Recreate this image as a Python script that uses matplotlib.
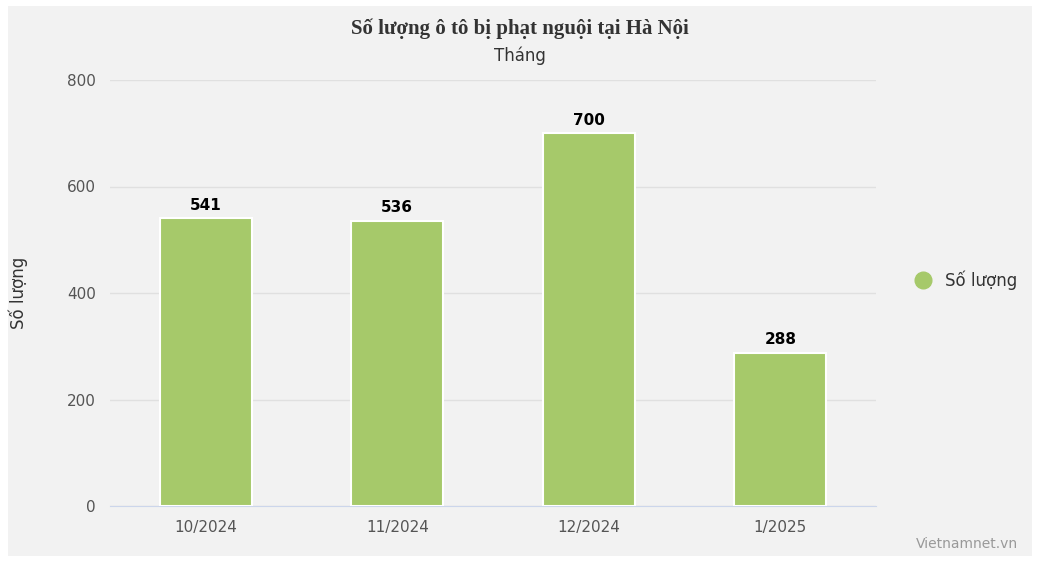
import matplotlib
matplotlib.use("Agg")
import matplotlib.pyplot as plt
from matplotlib.lines import Line2D

categories = ["10/2024", "11/2024", "12/2024", "1/2025"]
values = [541, 536, 700, 288]
yticks = [0, 200, 400, 600, 800]

W, H = 1043, 566
fig = plt.figure(figsize=(W/100, H/100), dpi=100)
fig.patch.set_facecolor("white")
bg = fig.add_axes([8/W, 1-556/H, (1032-8)/W, (556-6)/H], zorder=0)
bg.set_facecolor("#f2f2f2")
bg.set_xticks([]); bg.set_yticks([])
for s in bg.spines.values():
    s.set_visible(False)

ax = fig.add_axes([110/W, 1-506/H, (876-110)/W, (506-80)/H], zorder=1)
ax.set_facecolor("none")
x = range(len(categories))
ax.bar(x, values, width=0.48, color="#a6c96a", edgecolor="white", linewidth=1.5, zorder=3)
for xi, v in zip(x, values):
    ax.text(xi, v + 10, str(v), ha="center", va="bottom", fontsize=11, fontweight="bold", color="#000000")
ax.set_xlim(-0.5, len(categories) - 0.5)
ax.set_ylim(0, 800)
ax.set_yticks(yticks)
ax.set_xticks(list(x))
ax.set_xticklabels(categories)
ax.tick_params(axis="both", length=0, labelsize=11, colors="#555555", pad=10)
ax.grid(axis="y", color="#e0e0e0", linewidth=1, zorder=0)
for s in ["top", "right", "left"]:
    ax.spines[s].set_visible(False)
ax.spines["bottom"].set_color("#ccd6eb")
ax.set_ylabel("Số lượng", fontsize=12, color="#333333", labelpad=28)
fig.text(520/W, 1-29/H, "Số lượng ô tô bị phạt nguội tại Hà Nội", ha="center", va="center",
         fontsize=15, fontweight="bold", family="Liberation Serif", color="#333333")
fig.text(520/W, 1-56/H, "Tháng", ha="center", va="center", fontsize=12, color="#333333")
ax.legend(handles=[Line2D([], [], marker="o", linestyle="", markersize=12, color="#a6c96a")],
          labels=["Số lượng"], loc="center left", bbox_to_anchor=(1.02, 0.53), frameon=False,
          fontsize=12, handletextpad=0.3, labelcolor="#333333")
fig.text(1018/W, 1-544/H, "Vietnamnet.vn", ha="right", va="center", fontsize=10, color="#999999")
fig.savefig("out.png", dpi=100)
